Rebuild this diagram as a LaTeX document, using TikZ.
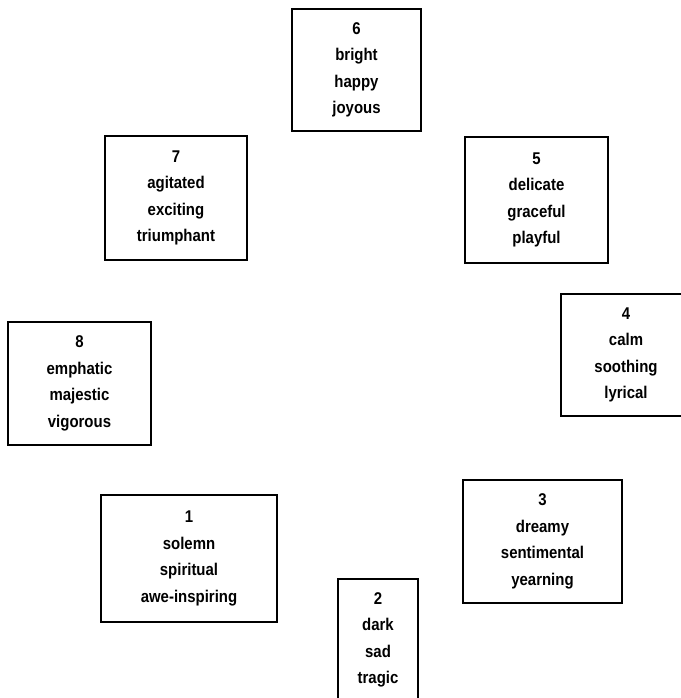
\documentclass[tikz,border=0pt]{standalone}
\usepackage{xcolor}
\usepackage{fontspec}
\setmainfont{Liberation Sans}
\newfontfamily\boxfont[FakeStretch=0.88]{Liberation Sans Bold}
\usepackage{tikz}

\begin{document}
\begin{tikzpicture}[x=1pt,y=-1pt,
    box/.style={draw,rectangle,line width=2.2pt,inner sep=0pt,align=center,
        font=\boxfont\fontsize{17}{26.5}\selectfont}]
    \useasboundingbox (0,0) rectangle (680,698);
    \node[box,minimum width=129pt,minimum height=122pt] (6) at (356.5,70) {6\\bright\\happy\\joyous};
    \node[box,minimum width=143pt,minimum height=126pt] (5) at (536.5,200) {5\\delicate\\graceful\\playful};
    \node[box,minimum width=142pt,minimum height=124pt] (7) at (176,198) {7\\agitated\\exciting\\triumphant};
    \node[box,minimum width=143pt,minimum height=123pt] (8) at (79.5,383.5) {8\\emphatic\\majestic\\vigorous};
    \node[box,minimum width=130pt,minimum height=122pt] (4) at (626,355) {4\\calm\\soothing\\lyrical};
    \node[box,minimum width=159pt,minimum height=123pt] (3) at (542.5,541.5) {3\\dreamy\\sentimental\\yearning};
    \node[box,minimum width=176pt,minimum height=127pt] (1) at (189,558.5) {1\\solemn\\spiritual\\awe-inspiring};
    \node[box,minimum width=80pt,minimum height=122pt] (2) at (378,640) {2\\dark\\sad\\tragic};
\end{tikzpicture}
\end{document}
